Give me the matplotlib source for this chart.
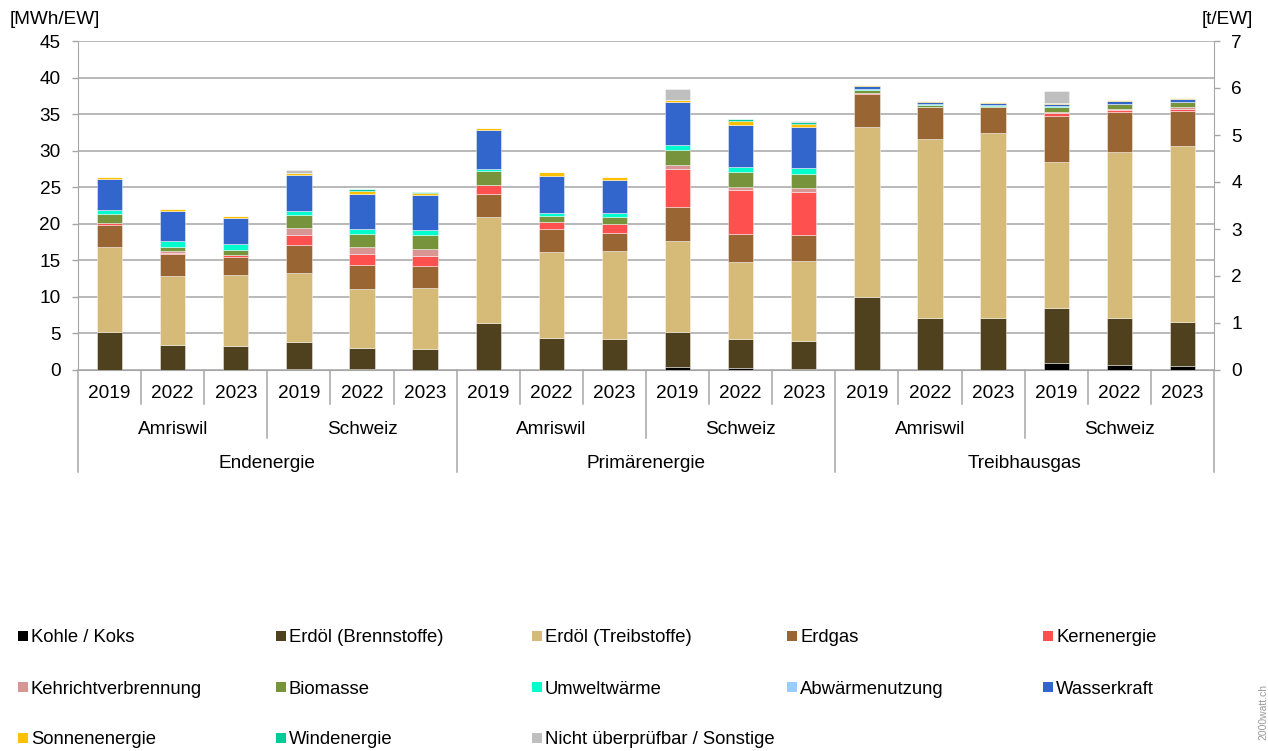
import numpy as np
import matplotlib
matplotlib.use("Agg")
import matplotlib.pyplot as plt
from matplotlib.patches import Rectangle

plt.rcParams['font.family'] = ['Liberation Sans', 'DejaVu Sans']

# 18 bars: Endenergie (6) and Primärenergie (6) in MWh/EW, Treibhausgas (6) in t/EW
years = ["2019", "2022", "2023"] * 6
regions = ["Amriswil", "Schweiz"] * 3
groups = ["Endenergie", "Primärenergie", "Treibhausgas"]

kohle = [0, 0, 0, 0.1, 0.1, 0.05, 0, 0, 0, 0.45, 0.3, 0.2, 0, 0, 0, 0.14, 0.11, 0.09]
erdoel_brenn = [5.2, 3.42, 3.33, 3.73, 2.9, 2.82, 6.47, 4.33, 4.28, 4.79, 3.9, 3.72,
                1.56, 1.11, 1.10, 1.17, 0.99, 0.94]
erdoel_treib = [11.6, 9.5, 9.67, 9.47, 8.1, 8.33, 14.43, 11.87, 12.02, 12.46, 10.6, 10.98,
                3.62, 3.80, 3.95, 3.12, 3.54, 3.73]
erdgas = [3.0, 2.9, 2.4, 3.8, 3.3, 3.0, 3.2, 3.1, 2.4, 4.6, 3.85, 3.5,
          0.70, 0.68, 0.54, 0.98, 0.84, 0.76]
kern = [0.35, 0.2, 0.3, 1.3, 1.4, 1.4, 1.2, 1.0, 1.3, 5.2, 5.95, 6.0,
        0.02, 0, 0, 0.06, 0.05, 0.03]
kehricht = [0, 0.2, 0, 1.0, 1.0, 1.0, 0, 0, 0, 0.5, 0.4, 0.45,
            0, 0, 0, 0.03, 0.02, 0.05]
biomasse = [1.25, 0.6, 0.7, 1.8, 1.85, 1.8, 1.9, 0.7, 0.97, 2.1, 2.1, 2.0,
            0.06, 0.05, 0.03, 0.09, 0.1, 0.1]
umwelt = [0.5, 0.8, 0.8, 0.55, 0.65, 0.7, 0.3, 0.5, 0.53, 0.7, 0.7, 0.75,
          0.02, 0.03, 0.02, 0.02, 0.02, 0.01]
abwaerme = [0, 0, 0, 0, 0, 0, 0, 0, 0, 0, 0, 0, 0, 0, 0, 0, 0, 0]
wasser = [4.2, 4.15, 3.6, 4.95, 4.8, 4.8, 5.3, 5.1, 4.5, 5.8, 5.75, 5.7,
          0.06, 0.04, 0.05, 0.05, 0.05, 0.05]
sonne = [0.3, 0.3, 0.3, 0.2, 0.4, 0.3, 0.3, 0.5, 0.35, 0.3, 0.5, 0.4,
         0.03, 0.02, 0.02, 0.02, 0.02, 0.03]
wind = [0, 0, 0, 0, 0.2, 0.2, 0, 0, 0, 0, 0.25, 0.2, 0, 0, 0, 0, 0, 0]
nicht = [0, 0, 0, 0.5, 0, 0, 0, 0, 0, 1.6, 0, 0.1, 0, 0, 0, 0.25, 0, 0]

labels = ["Kohle / Koks", "Erdöl (Brennstoffe)", "Erdöl (Treibstoffe)", "Erdgas", "Kernenergie",
          "Kehrichtverbrennung", "Biomasse", "Umweltwärme", "Abwärmenutzung", "Wasserkraft",
          "Sonnenenergie", "Windenergie", "Nicht überprüfbar / Sonstige"]
series = [kohle, erdoel_brenn, erdoel_treib, erdgas, kern, kehricht, biomasse, umwelt,
          abwaerme, wasser, sonne, wind, nicht]
colors = ["#000000", "#4f411e", "#d6bb78", "#996633", "#ff5050", "#d99594", "#77933c",
          "#00ffcc", "#99ccff", "#3366cc", "#ffc000", "#00cc99", "#bfbfbf"]

fig = plt.figure(figsize=(12.68, 7.51), dpi=100)
ax = fig.add_axes([78 / 1268, 1 - 370 / 751, 1136 / 1268, 329 / 751])
ax2 = ax.twinx()

x = np.arange(18)
bottom = np.zeros(18)
for vals, col in zip(series, colors):
    v = np.array(vals, dtype=float)
    ax.bar(x[:12], v[:12], bottom=bottom[:12], width=0.4, color=col,
           edgecolor=(1, 1, 1, 0.5), linewidth=0.6, zorder=3)
    ax2.bar(x[12:], v[12:], bottom=bottom[12:], width=0.4, color=col,
            edgecolor=(1, 1, 1, 0.5), linewidth=0.6, zorder=3)
    bottom += v

gcol = "#a6a6a6"
ax.set_xlim(-0.5, 17.5)
ax.set_ylim(0, 45)
ax.set_yticks(np.arange(0, 46, 5))
ax2.set_ylim(0, 7)
ax2.set_yticks(np.arange(0, 8, 1))
ax.grid(axis="y", color=gcol, linewidth=1.1, zorder=0)
ax.set_axisbelow(True)

for a in (ax, ax2):
    for s in a.spines.values():
        s.set_visible(False)
    a.tick_params(axis="y", length=4.5, width=1, color=gcol, labelsize=13.7, pad=8)
ax.spines["left"].set_visible(True)
ax.spines["left"].set_color(gcol)
ax.spines["bottom"].set_visible(True)
ax.spines["bottom"].set_color(gcol)
ax2.spines["right"].set_visible(True)
ax2.spines["right"].set_color(gcol)
ax.set_xticks([])

# category axis with three levels
tr = ax.get_xaxis_transform()
for k in range(19):
    xs = k - 0.5
    if k % 6 == 0:
        y1 = -102 / 329
    elif k % 3 == 0:
        y1 = -68 / 329
    else:
        y1 = -34 / 329
    ax.plot([xs, xs], [0, y1], color=gcol, linewidth=1.1, transform=tr, clip_on=False)
for i, yr in enumerate(years):
    ax.text(i, -24 / 329, yr, transform=tr, ha="center", va="center", fontsize=13.7)
for i, r in enumerate(regions):
    ax.text(3 * i + 1, -60 / 329, r, transform=tr, ha="center", va="center", fontsize=13.7)
for i, g in enumerate(groups):
    ax.text(6 * i + 2.5, -94 / 329, g, transform=tr, ha="center", va="center", fontsize=13.7)

fig.text(10 / 1268, 1 - 19 / 751, "[MWh/EW]", ha="left", va="center", fontsize=13.7)
fig.text(1253 / 1268, 1 - 19 / 751, "[t/EW]", ha="right", va="center", fontsize=13.7)

# legend, 5 equal columns like the original
col_x = [18, 276, 532, 787, 1043]
row_y = [636, 687, 738]
for i, (lab, col) in enumerate(zip(labels, colors)):
    cx = col_x[i % 5]
    cy = row_y[i // 5]
    fig.add_artist(Rectangle((cx / 1268, 1 - (cy + 5) / 751), 10 / 1268, 10 / 751,
                             transform=fig.transFigure, facecolor=col, edgecolor="none"))
    fig.text((cx + 13) / 1268, 1 - (cy + 2) / 751, lab, ha="left", va="center", fontsize=13.3)

fig.text(1263 / 1268, 1 - 712 / 751, "2000watt.ch", rotation=90, ha="center", va="center",
         fontsize=7.5, color="#9a9a9a")

fig.savefig("out.png", dpi=100)
